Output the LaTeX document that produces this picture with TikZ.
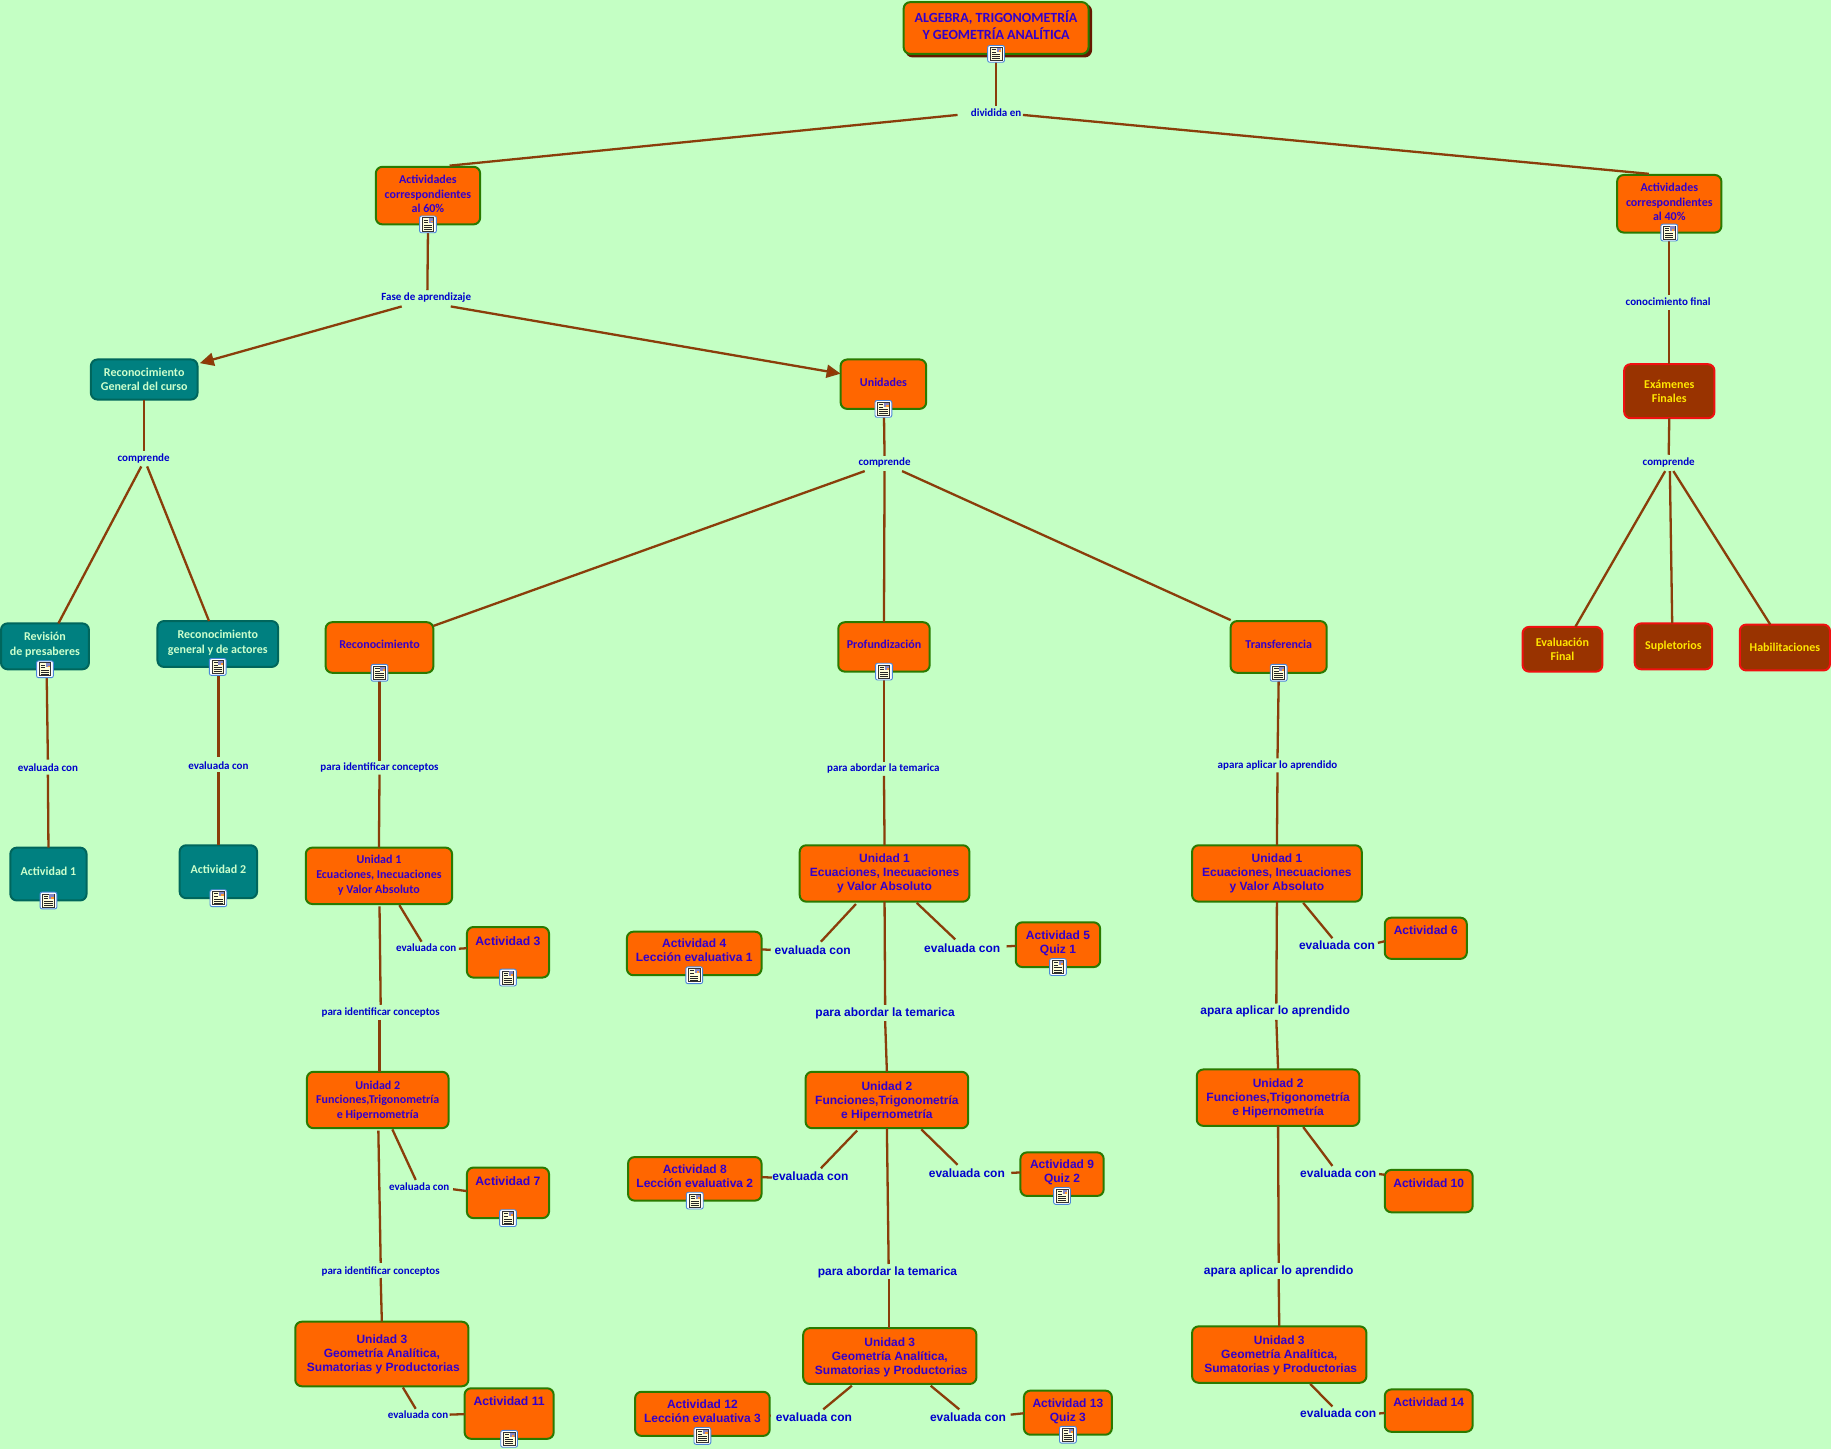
\documentclass[tikz,border=0pt]{standalone}
\usepackage{fontspec}
\usetikzlibrary{arrows.meta,calc,shadows}
\newfontfamily\cbf[BoldFont={Carlito Bold}]{Carlito}
\newfontfamily\abf{Liberation Sans}
\definecolor{bgc}{HTML}{C4FFC4}
\definecolor{org}{HTML}{FF6600}
\definecolor{grn}{HTML}{2A7A00}
\definecolor{tinta}{HTML}{3300CC}
\definecolor{labc}{HTML}{0000CC}
\definecolor{lin}{HTML}{8A3E0A}
\definecolor{tea}{HTML}{008080}
\definecolor{teab}{HTML}{00665C}
\definecolor{teat}{HTML}{CCFFCC}
\definecolor{bru}{HTML}{993300}
\definecolor{redb}{HTML}{F01010}
\definecolor{yel}{HTML}{FFE600}
\definecolor{shad}{HTML}{651800}
\definecolor{icb}{HTML}{4A86D8}
\newsavebox\bxsave
\newcommand\bxtext[2]{\sbox\bxsave{\begin{tabular}{@{}c@{}}#2\end{tabular}}\raisebox{\dimexpr #1pt-1.2pt-\ht\bxsave/2+\dp\bxsave/2\relax}[0pt][0pt]{\usebox\bxsave}}
\newcommand\bx[7][]{%
 \pgfmathsetmacro\bxCX{(#3+#5)/2}\pgfmathsetmacro\bxCY{(#4+#6)/2}%
 \pgfmathsetmacro\bxW{(#5-#3)*1.16773-2}\pgfmathsetmacro\bxH{(#6-#4)*1.16773-2}%
 \node[bbase,#1,minimum width=\bxW pt,minimum height=\bxH pt] (#2) at (\bxCX,\bxCY) {\bxtext{#7}{\bxbody}};}
\newcommand\lnk[7][]{\draw[cn,#1] ($(#2)+(#3,#4)$) -- ($(#5)+(#6,#7)$);}
\newcommand\ico[1]{\path (#1.south) pic {docicon};}
\tikzset{
 x=1.16773pt,y=-1.16773pt,
 bbase/.style={rectangle,rounded corners=6.5pt,line width=2pt,inner sep=0pt,outer sep=0pt,align=center},
 fo/.style={fill=org,draw=grn,text=tinta},
 te/.style={fill=tea,draw=teab,text=teat},
 br/.style={fill=bru,draw=redb,text=yel},
 cf/.style={font=\cbf\bfseries\fontsize{#1}{14.6}\selectfont},
 cf/.default=12,
 rf/.style={font=\cbf\bfseries\fontsize{14}{16.4}\selectfont},
 af/.style={font=\abf\bfseries\fontsize{#1}{14}\selectfont},
 af/.default=12,
 cn/.style={draw=lin,line width=2.3pt},
 ar/.style={-{Triangle[length=14pt,width=13pt,fill=bru]}},
 lc/.style={text=labc,inner sep=0pt,yshift=-0.5pt,font=\cbf\bfseries\fontsize{11}{13}\selectfont},
 la/.style={text=labc,inner sep=0pt,yshift=-0.5pt,font=\abf\bfseries\fontsize{12}{14}\selectfont},
 docicon/.pic={
  \draw[draw=icb,fill=white,rounded corners=2pt,line width=.9pt] (-7.2,-7.2) rectangle (7.2,7.2);
  \draw[black!80,fill=yellow!15,line width=.7pt] (-5,-5.6) rectangle (5,5.6);
  \fill[blue!35!gray!70] (.6,-5.2) rectangle (4.6,-1.6);
  \fill[orange!80] (2.6,-3.2) rectangle (4.4,-1.7);
  \draw[black!85,line width=.6pt] (-3.6,-3.8)--(0,-3.8) (-3.6,-1.6)--(0,-1.6) (-3.6,.6)--(3.6,.6) (-3.6,2.4)--(3.6,2.4) (-3.6,4.1)--(3.6,4.1);
 }
}
\begin{document}
\begin{tikzpicture}
\path[use as bounding box,fill=bgc] (0,0) rectangle (1568,1241);
\def\bxbody{ALGEBRA, TRIGONOMETRÍA\\ Y GEOMETRÍA ANALÍTICA}
\bx[fo,rf,copy shadow={shadow xshift=2.6pt,shadow yshift=-2.6pt,fill=shad,draw=shad}]{root}{773}{1}{933}{47}{1.5}
\def\bxbody{Actividades\\correspondientes\\al 60\%}
\bx[fo,cf]{A60}{321}{142}{412}{193}{1.5}
\def\bxbody{Actividades\\correspondientes\\al 40\%}
\bx[fo,cf]{A40}{1384}{149}{1475}{200}{1.5}
\def\bxbody{Reconocimiento\\General del curso}
\bx[te,cf]{RecGen}{77}{307}{170}{343}{0}
\def\bxbody{Unidades}
\bx[fo,cf]{Unid}{719}{307}{794}{351}{2}
\def\bxbody{Exámenes\\Finales}
\bx[br,cf]{ExFin}{1390}{311}{1469}{359}{0}
\def\bxbody{Evaluación\\Final}
\bx[br,cf]{EvF}{1303}{536}{1373}{576}{0}
\def\bxbody{Supletorios}
\bx[br,cf]{Sup}{1399}{533}{1467}{574}{0.5}
\def\bxbody{Habilitaciones}
\bx[br,cf]{Hab}{1489}{534}{1568}{575}{0}
\def\bxbody{Revisión\\de presaberes}
\bx[te,cf]{Rev}{0}{533}{77}{574}{2.5}
\def\bxbody{Reconocimiento\\general y de actores}
\bx[te,cf]{RGA}{134}{531}{239}{572}{2}
\def\bxbody{Actividad 1}
\bx[te,cf]{Ac1}{8}{725}{75}{772}{3}
\def\bxbody{Actividad 2}
\bx[te,cf]{Ac2}{153}{723}{221}{770}{2.5}
\def\bxbody{Reconocimiento}
\bx[fo,cf]{Rcn}{278}{532}{372}{577}{3}
\def\bxbody{Profundización}
\bx[fo,cf]{Prf}{717}{532}{797}{576}{2.5}
\def\bxbody{Transferencia}
\bx[fo,cf]{Trf}{1053}{531}{1137}{577}{2.5}
% units col 1
\def\bxbody{Unidad 1\\Ecuaciones, Inecuaciones\\y Valor Absoluto}
\bx[fo,cf]{Ua1}{261}{725}{388}{775}{1.5}
\def\bxbody{Unidad 2\\Funciones,Trigonometría\\e Hipernometría}
\bx[fo,cf]{Ua2}{262}{917}{385}{967}{0.5}
\def\bxbody{Unidad 3\\Geometría Analítica,\\\hspace*{3pt}Sumatorias y Productorias}
\bx[fo,af]{Ua3}{252}{1131}{402}{1188}{0}
% col 2
\def\bxbody{Unidad 1\\Ecuaciones, Inecuaciones\\y Valor Absoluto}
\bx[fo,af]{Ub1}{684}{723}{831}{773}{1}
\def\bxbody{Unidad 2\\Funciones,Trigonometría\\e Hipernometría}
\bx[fo,af]{Ub2}{689}{917}{830}{967}{0}
\def\bxbody{Unidad 3\\Geometría Analítica,\\\hspace*{3pt}Sumatorias y Productorias}
\bx[fo,af]{Ub3}{687}{1136.5}{837}{1186}{0}
% col 3
\def\bxbody{Unidad 1\\Ecuaciones, Inecuaciones\\y Valor Absoluto}
\bx[fo,af]{Uc1}{1020}{723}{1167}{773}{1}
\def\bxbody{Unidad 2\\Funciones,Trigonometría\\e Hipernometría}
\bx[fo,af]{Uc2}{1024}{915}{1165}{965}{0}
\def\bxbody{Unidad 3\\Geometría Analítica,\\\hspace*{3pt}Sumatorias y Productorias}
\bx[fo,af]{Uc3}{1020}{1135}{1171}{1185}{0}
% activities
\def\bxbody{Actividad 3}
\bx[fo,af=12.2]{A3}{399}{793}{471}{838}{11}
\def\bxbody{Actividad 4\\Lección evaluativa 1}
\bx[fo,af]{A4}{536}{797}{653}{836}{2.5}
\def\bxbody{Actividad 5\\Quiz 1}
\bx[fo,af]{A5}{869}{789}{943}{829}{2.5}
\def\bxbody{Actividad 6}
\bx[fo,af]{A6}{1185}{785}{1257}{822}{8}
\def\bxbody{Actividad 7}
\bx[fo,af=12.2]{A7}{399}{999}{471}{1044}{11}
\def\bxbody{Actividad 8\\Lección evaluativa 2}
\bx[fo,af]{A8}{537}{990}{653}{1029}{2.5}
\def\bxbody{Actividad 9\\Quiz 2}
\bx[fo,af]{A9}{873}{986}{946}{1025}{2.5}
\def\bxbody{Actividad 10}
\bx[fo,af]{A10}{1185}{1001}{1262}{1039}{8}
\def\bxbody{Actividad 11}
\bx[fo,af=12.2]{A11}{397}{1188}{475}{1233}{12}
\def\bxbody{Actividad 12\\Lección evaluativa 3}
\bx[fo,af]{A12}{543}{1191}{660}{1230.5}{2.5}
\def\bxbody{Actividad 13\\Quiz 3}
\bx[fo,af]{A13}{876}{1190}{953}{1229.5}{2.5}
\def\bxbody{Actividad 14}
\bx[fo,af]{A14}{1185}{1189}{1262}{1227}{8}
% labels
\node[lc] (l1) at (853,96) {dividida en};
\node[lc] (l2) at (365,254) {Fase de aprendizaje};
\node[lc] (l3) at (1428.5,258) {conocimiento final};
\node[lc] (c1) at (123,392) {comprende};
\node[lc] (c2) at (757.5,396) {comprende};
\node[lc] (c3) at (1429,396) {comprende};
\node[lc] (e1) at (41,657) {evaluada con};
\node[lc] (e2) at (187,655) {evaluada con};
\node[lc] (pi1) at (325,657) {para identificar conceptos};
\node[lc] (pa1) at (756.5,658) {para abordar la temarica};
\node[lc] (ap1) at (1094,655) {apara aplicar lo aprendido};
\node[lc] (ea1) at (365,811) {evaluada con};
\node[lc] (pi2) at (326,867) {para identificar conceptos};
\node[lc] (ea2) at (359,1016) {evaluada con};
\node[lc] (pi3) at (326,1088) {para identificar conceptos};
\node[lc] (ea3) at (358,1211) {evaluada con};
\node[la] (pa2) at (758,867) {para abordar la temarica};
\node[la] (ap2) at (1092,866) {apara aplicar lo aprendido};
\node[la] (eb1) at (696,813) {evaluada con};
\node[la] (eb2) at (824,812) {evaluada con};
\node[la] (ec1) at (1145,809) {evaluada con};
\node[la] (eb3) at (694,1007) {evaluada con};
\node[la] (eb4) at (828,1004) {evaluada con};
\node[la] (ec2) at (1146,1004) {evaluada con};
\node[la] (pa3) at (760,1089) {para abordar la temarica};
\node[la] (ap3) at (1095,1088) {apara aplicar lo aprendido};
\node[la] (eb5) at (697,1213) {evaluada con};
\node[la] (eb6) at (829,1213) {evaluada con};
\node[la] (ec3) at (1146,1210) {evaluada con};
% connectors
\lnk{root.south}{0}{6}{l1}{0}{-6}
\lnk{l1}{-33}{2}{A60.north}{18.5}{-1}
\lnk{l1}{23}{2}{A40.north}{-17.5}{-1}
\lnk{A60.south}{0}{6}{l2}{1}{-6}
\lnk[ar]{l2}{-21}{8}{RecGen.east}{2}{-14}
\lnk[ar]{l2}{21}{8}{Unid.west}{0}{-9}
\lnk{RecGen.south}{0}{0}{c1}{0.5}{-6}
\lnk{c1}{-2}{7}{Rev.north}{11.5}{0}
\lnk{c1}{3}{7}{RGA.north}{-7.5}{0}
\lnk{Rev.south}{1.5}{6}{e1}{0}{-7}
\lnk{e1}{0}{6}{Ac1.north}{0}{0}
\lnk{RGA.south}{0.5}{6}{e2}{0}{-7}
\lnk{e2}{0}{6}{Ac2.north}{0}{0}
\lnk{Unid.south}{0.5}{5}{c2}{0}{-6}
\lnk{c2}{-17}{7}{Rcn.east}{0}{-18.5}
\lnk{c2}{0}{7}{Prf.north}{0}{0}
\lnk{c2}{15}{7}{Trf.west}{0}{-23}
\lnk{A40.south}{0}{6}{l3}{1}{-6}
\lnk{l3}{1}{7}{ExFin.north}{0}{0}
\lnk{ExFin.south}{0}{0}{c3}{0}{-7}
\lnk{c3}{-3}{7}{EvF.north}{11}{0}
\lnk{c3}{1}{7}{Sup.north}{-1}{0}
\lnk{c3}{4}{7}{Hab.north}{-12.5}{0}
\lnk{Rcn.south}{0}{6}{pi1}{0}{-6}
\lnk{pi1}{0}{6}{Ua1.north}{0}{0}
\lnk{Prf.south}{0}{6}{pa1}{0.5}{-6}
\lnk{pa1}{0.5}{6}{Ub1.north}{0}{0}
\lnk{Trf.south}{0}{6}{ap1}{0}{-6}
\lnk{ap1}{0}{6}{Uc1.north}{0}{0}
% col 1
\lnk{Ua1.south}{0.5}{2}{pi2}{0}{-7}
\lnk{pi2}{-1}{6}{Ua2.north}{1.5}{0}
\lnk{Ua1.south}{17.5}{1}{ea1}{-4}{-5}
\lnk{ea1}{28}{1}{A3.west}{0}{-3.5}
\lnk{Ua2.south}{0.5}{2}{pi3}{0}{-7}
\lnk{pi3}{0}{6}{Ua3.north}{0}{0}
\lnk{Ua2.south}{12.5}{1}{ea2}{-3}{-6}
\lnk{ea2}{29}{2}{A7.west}{0}{-1.5}
\lnk{Ua3.south}{18}{1}{ea3}{-2}{-5}
\lnk{ea3}{27}{0}{A11.west}{0}{0.5}
% col 2
\lnk{Ub1.south}{0}{0}{pa2}{0}{-7}
\lnk{pa2}{0}{7}{Ub2.north}{0}{0}
\lnk{Ub1.south}{-24.5}{2}{eb1}{7}{-7}
\lnk{eb1}{-36}{0}{A4.east}{0}{-3.5}
\lnk{Ub1.south}{27.5}{1}{eb2}{-6}{-8}
\lnk{eb2}{38}{-2}{A5.west}{0}{1}
\lnk{Ub2.south}{0}{0}{pa3}{1}{-7}
\lnk{pa3}{1}{6}{Ub3.north}{-1}{0}
\lnk{Ub2.south}{-25.5}{2}{eb3}{9}{-7}
\lnk{eb3}{-33}{1}{A8.east}{0}{-1.5}
\lnk{Ub2.south}{29.5}{1}{eb4}{-8}{-7}
\lnk{eb4}{38}{0}{A9.west}{0}{-1.5}
\lnk{Ub3.south}{-32.5}{1.5}{eb5}{8}{-6.5}
\lnk{eb5}{-37}{-1}{A12.east}{0}{1.5}
\lnk{Ub3.south}{35}{1.5}{eb6}{-7.5}{-6.5}
\lnk{eb6}{36.5}{-2}{A13.west}{0}{0.5}
% col 3
\lnk{Uc1.south}{0}{0}{ap2}{1}{-7}
\lnk{ap2}{1}{7}{Uc2.north}{0}{0}
\lnk{Uc1.south}{22.5}{1}{ec1}{-4}{-6}
\lnk{ec1}{35}{-2}{A6.west}{0}{2.5}
\lnk{Uc2.south}{0}{0}{ap3}{0}{-7}
\lnk{ap3}{0}{7}{Uc3.north}{0}{0}
\lnk{Uc2.south}{21.5}{1}{ec2}{-5}{-6}
\lnk{ec2}{35}{1}{A10.west}{0}{-14}
\lnk{Uc3.south}{26.5}{1}{ec3}{-5}{-6}
\lnk{ec3}{35}{0}{A14.west}{0}{2}
% icons
\ico{root}\ico{A60}\ico{A40}\ico{Unid}\ico{Rev}\ico{RGA}\ico{Ac1}\ico{Ac2}
\ico{Rcn}\ico{Prf}\ico{Trf}\ico{A3}\ico{A4}\ico{A5}\ico{A7}\ico{A8}\ico{A9}
\ico{A11}\ico{A12}\ico{A13}
\end{tikzpicture}
\end{document}
